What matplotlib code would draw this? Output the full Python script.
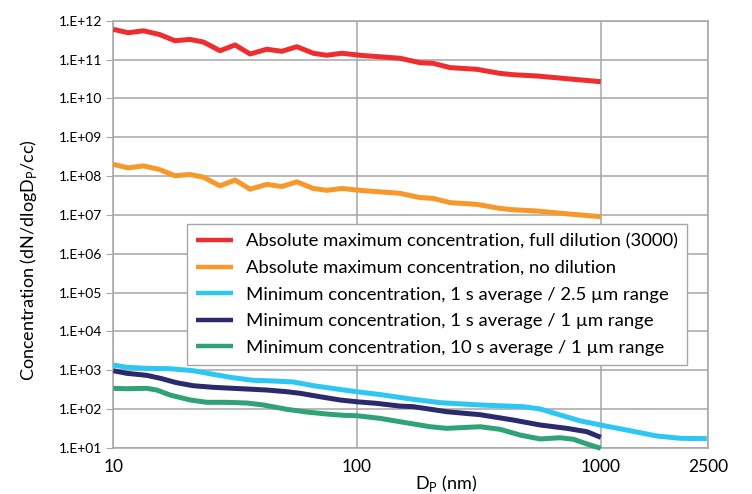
import numpy as np
import matplotlib
matplotlib.use('Agg')
import matplotlib.pyplot as plt

plt.rcParams['font.family'] = ['Lato', 'DejaVu Sans']

# particle diameter (nm) and concentration (dN/dlogDp/cc)
dp_max = [10, 11.5, 13.3, 15.5, 17.9, 20.6, 23.4, 27.4, 31.6, 36.4, 42.6, 49.1,
          56.6, 66.2, 75.1, 86.6, 102.8, 113, 150, 181, 205, 241, 311, 386,
          437, 548, 748, 1000]
full_dilution = [6.0e11, 4.9e11, 5.5e11, 4.4e11, 3.05e11, 3.3e11, 2.83e11, 1.69e11,
                 2.37e11, 1.39e11, 1.84e11, 1.63e11, 2.14e11, 1.45e11, 1.29e11,
                 1.45e11, 1.29e11, 1.23e11, 1.08e11, 8.3e10, 8.0e10, 6.2e10, 5.6e10,
                 4.4e10, 4.07e10, 3.77e10, 3.16e10, 2.69e10]
no_dilution = [2.0e8, 1.63e8, 1.83e8, 1.47e8, 1.02e8, 1.1e8, 9.4e7, 5.6e7, 7.9e7,
               4.6e7, 6.1e7, 5.4e7, 7.1e7, 4.8e7, 4.3e7, 4.8e7, 4.3e7, 4.1e7, 3.6e7,
               2.8e7, 2.67e7, 2.07e7, 1.87e7, 1.47e7, 1.36e7, 1.26e7, 1.05e7, 9.0e6]

dp_cyan = [10, 11.35, 13.7, 17.1, 21.3, 25.7, 31.0, 37.5, 45.4, 54.8, 66.2, 82.6,
           99.7, 124, 170, 219, 320, 480, 564, 681, 823, 1000, 1318, 1698, 2115, 2722]
min_1s_25 = [1370, 1195, 1125, 1099, 977, 789, 645, 553, 531, 500, 402, 330,
             281, 238, 179, 147, 128, 116, 101, 71, 50, 39, 27.9, 20.4, 17.8, 17.4]

dp_navy = [10, 11.35, 13.7, 15.6, 18.2, 21.3, 25.7, 31.0, 37.5, 42.6, 51.5, 58.4,
           70.5, 85.2, 99.7, 120.5, 150, 170, 233.5, 320, 437, 564, 725, 877, 1000]
min_1s_1 = [977, 838, 743, 622, 479, 401, 365, 344, 324, 311, 281, 256,
            209, 172, 155, 141, 120, 116, 86, 72, 52.6, 39.1, 32.1, 26.3, 18.8]

dp_green = [10, 11.35, 13.7, 15.07, 17.1, 20.7, 24.2, 29.2, 35.3, 41.3, 51.5, 62.2,
            75.1, 87.9, 99.7, 124.2, 150, 199.5, 233.5, 320, 386, 466, 564, 681,
            772, 877, 1000]
min_10s_1 = [344, 336, 344, 311, 231, 172, 150, 150, 144, 128, 99, 84.5,
             75, 69.5, 67.8, 58, 47.5, 35.3, 32.1, 35.3, 30.3, 21.6, 17.1, 18.4,
             16.8, 12.7, 9.8]

labels = ['Absolute maximum concentration, full dilution (3000)',
          'Absolute maximum concentration, no dilution',
          'Minimum concentration, 1 s average / 2.5 \u00b5m range',
          'Minimum concentration, 1 s average / 1 \u00b5m range',
          'Minimum concentration, 10 s average / 1 \u00b5m range']
colors = ['#EE2E2E', '#F7982A', '#2EC6F2', '#2A2A6C', '#2FA277']

x_ticks = [10, 100, 1000, 2750]
x_ticklabels = ['10', '100', '1000', '2500']
y_ticks = [10.0 ** k for k in range(1, 13)]
y_ticklabels = ['1.E+%02d' % k for k in range(1, 13)]

fig = plt.figure(figsize=(7.52, 4.94), dpi=100)
ax = fig.add_axes([0.1507, 0.0931, 0.7906, 0.865])

series = [(dp_max, full_dilution), (dp_max, no_dilution), (dp_cyan, min_1s_25),
          (dp_navy, min_1s_1), (dp_green, min_10s_1)]
for (xs, ys), lab, c in zip(series, labels, colors):
    ax.plot(xs, ys, color=c, lw=3.6, label=lab, solid_joinstyle='round',
            solid_capstyle='butt', clip_on=False, zorder=3)

ax.set_xscale('log')
ax.set_yscale('log')
ax.set_xlim(10, 2750)
ax.set_ylim(10, 1e12)
ax.set_xticks(x_ticks)
ax.set_xticklabels(x_ticklabels, fontsize=12.5)
ax.set_yticks(y_ticks)
ax.set_yticklabels(y_ticklabels, fontsize=10)
ax.minorticks_off()
ax.tick_params(axis='y', length=5, color='#A6A6A6', pad=3)
ax.tick_params(axis='x', length=0, pad=8)
ax.grid(True, color='#A6A6A6', lw=1.1)
ax.set_axisbelow(True)
for s in ax.spines.values():
    s.set_color('#A6A6A6')
    s.set_linewidth(1.1)

ax.set_ylabel('Concentration (dN/dlogD$_\\mathregular{P}$/cc)', fontsize=13)
ax.yaxis.set_label_coords(-0.125, 0.44)
ax.set_xlabel('D$_\\mathregular{P}$ (nm)', fontsize=13)
ax.xaxis.set_label_coords(0.56, -0.058)

leg = ax.legend(loc='upper left', bbox_to_anchor=(0.124, 0.524), fontsize=13.3,
                frameon=True, fancybox=False, borderaxespad=0, borderpad=0.5,
                handlelength=2.0, handletextpad=0.7, labelspacing=0.57)
leg.get_frame().set_edgecolor('#A6A6A6')
leg.get_frame().set_linewidth(1.0)
leg.get_frame().set_alpha(1)
for line in leg.get_lines():
    line.set_linewidth(3.2)

fig.savefig('out.png', dpi=100)
